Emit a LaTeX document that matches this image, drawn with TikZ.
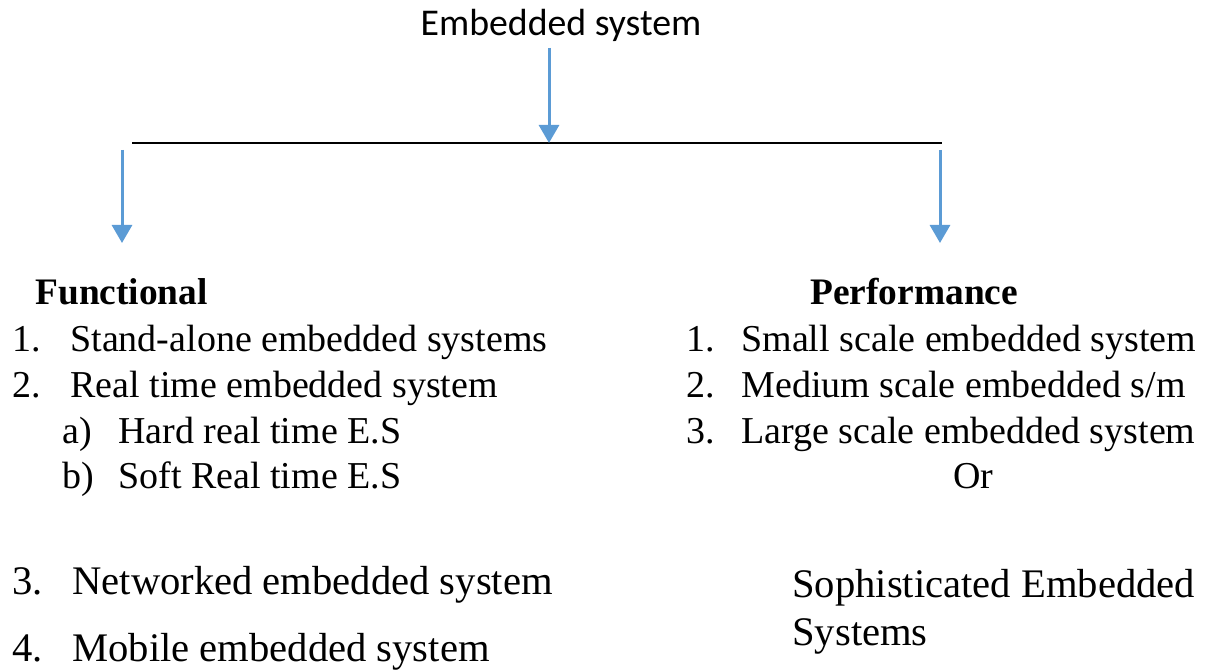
\documentclass[tikz,border=0pt]{standalone}
\usepackage{fontspec}
\setmainfont{Liberation Serif}
\newfontfamily\calfont{Carlito}
\usetikzlibrary{arrows.meta}
\definecolor{arrowblue}{HTML}{5B9BD5}
\tikzset{
  flow/.style={draw=arrowblue, line width=1.5pt, -{Triangle[width=10pt,length=9pt]}},
  bar/.style={draw=black, line width=1pt},
  item/.style={anchor=base west, inner sep=0pt, font=\fontsize{19}{23}\selectfont},
  bigitem/.style={anchor=base west, inner sep=0pt, font=\fontsize{20.3}{24}\selectfont},
  head/.style={anchor=base west, inner sep=0pt, font=\fontsize{18.7}{23}\selectfont\bfseries},
}
\begin{document}
\begin{tikzpicture}[x=0.5pt, y=-0.5pt]
\useasboundingbox (0,0) rectangle (1212,672);
% title
\node[anchor=base, inner sep=0pt, font=\calfont\fontsize{18.9}{23}\selectfont] (title) at (561,36) {Embedded system};
% branching bar
\coordinate (mid) at (549,143);
\coordinate (barL) at (132,143);
\coordinate (barR) at (942,143);
\draw[bar] (barL) -- (barR);
\coordinate (topS) at (549,48);
\draw[flow] (topS) -- (mid);
\coordinate (lS) at (122,150);
\coordinate (lE) at (122,243);
\coordinate (rS) at (940,150);
\coordinate (rE) at (940,243);
\draw[flow] (lS) -- (lE);
\draw[flow] (rS) -- (rE);
% functional classification
\node[head] (func) at (35,305) {Functional};
\node[item] (f1n) at (12,352) {1.};
\node[item] (f1) at (70,352) {Stand-alone embedded systems};
\node[item] (f2n) at (12,398) {2.};
\node[item] (f2) at (70,398) {Real time embedded system};
\node[item] (fan) at (62,444) {a)};
\node[item] (fa) at (118,444) {Hard real time E.S};
\node[item] (fbn) at (62,489) {b)};
\node[item] (fb) at (118,489) {Soft Real time E.S};
\node[bigitem] (f3n) at (12,595) {3.};
\node[bigitem] (f3) at (72,595) {Networked embedded system};
\node[bigitem] (f4n) at (12,662) {4.};
\node[bigitem] (f4) at (72,662) {Mobile embedded system};
% performance classification
\node[head] (perf) at (810,305) {Performance};
\node[item] (p1n) at (686,352) {1.};
\node[item] (p1) at (741,352) {Small scale embedded system};
\node[item] (p2n) at (686,398) {2.};
\node[item] (p2) at (741,398) {Medium scale embedded s/m};
\node[item] (p3n) at (686,444) {3.};
\node[item] (p3) at (741,444) {Large scale embedded system};
\node[item] (or) at (953,489) {Or};
\node[bigitem] (soph) at (792,598) {Sophisticated Embedded};
\node[bigitem] (sys) at (792,646) {Systems};
\end{tikzpicture}
\end{document}
